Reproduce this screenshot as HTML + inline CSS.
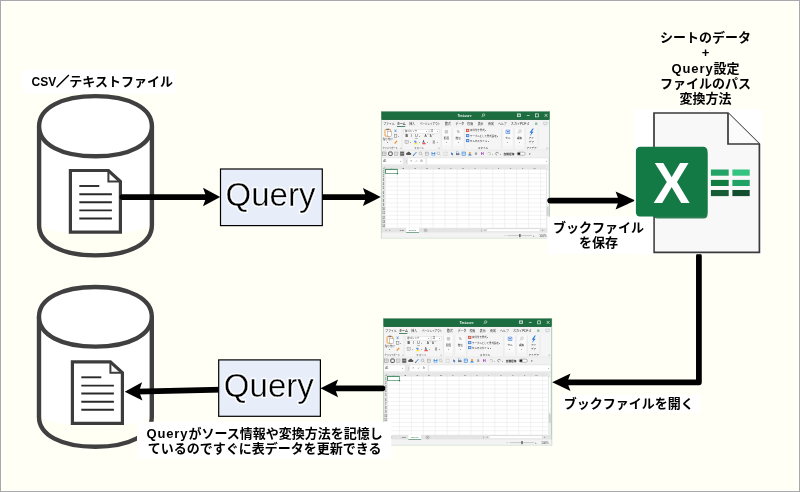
<!DOCTYPE html>
<html lang="ja">
<head>
<meta charset="utf-8">
<title>Query diagram</title>
<style>
html,body{margin:0;padding:0;background:#fff;}
body{width:800px;height:492px;overflow:hidden;}
svg{display:block;will-change:transform;}
text{white-space:pre;}
</style>
</head>
<body>
<svg width="800" height="492" viewBox="0 0 800 492">
<defs><filter id="soft" x="-2%" y="-2%" width="104%" height="104%"><feGaussianBlur stdDeviation="0.32"/></filter></defs>
<rect x="0" y="0" width="800" height="492" fill="#a9a9a9"/>
<rect x="1" y="1" width="798" height="490" fill="#ffffff"/>
<rect x="2.3" y="2.3" width="795.4" height="487.4" fill="#fffff6"/>
<rect x="22.5" y="70.5" width="152.50" height="23.00" fill="#ffffff"/>
<text x="31.60" y="85.80" font-family="'Liberation Sans','Noto Sans CJK JP',sans-serif" font-weight="bold" font-size="13" text-anchor="start" fill="#000"><tspan font-size="12">CSV</tspan><tspan stroke="#000" stroke-width="0.7">／</tspan>テキストファイル</text>
<path d="M39.10,126.20 L39.10,225.30 C39.10,243.51 61.38,255.40 95.50,255.40 C129.62,255.40 151.90,243.51 151.90,225.30 L151.90,126.20 Z" fill="#fffff4"/>
<path d="M39.10,126.20 L39.10,221.30 C39.10,229.17 61.38,234.30 95.50,234.30 C129.62,234.30 151.90,229.17 151.90,221.30 L151.90,126.20 Z" fill="#ffffff"/>
<path d="M39.10,126.20 L39.10,225.30 C39.10,243.51 61.38,255.40 95.50,255.40 C129.62,255.40 151.90,243.51 151.90,225.30 L151.90,126.20" fill="none" stroke="#404040" stroke-width="4.4" stroke-linejoin="round"/>
<path d="M39.10,126.20 C39.10,144.41 61.38,156.30 95.50,156.30 C129.62,156.30 151.90,144.41 151.90,126.20 C151.90,107.99 129.62,96.10 95.50,96.10 C61.38,96.10 39.10,107.99 39.10,126.20 Z" fill="#ffffff" stroke="#404040" stroke-width="4.4"/>
<path d="M70.40,170.50 L108.40,170.50 L120.40,181.50 L120.40,232.10 L70.40,232.10 Z" fill="#ffffff" stroke="#3c3c3c" stroke-width="3.2" stroke-linejoin="miter"/>
<path d="M108.40,170.50 L108.40,181.50 L120.40,181.50" fill="none" stroke="#3c3c3c" stroke-width="2"/>
<line x1="79.30" y1="186.00" x2="99.30" y2="186.00" stroke="#2a2a2a" stroke-width="1.9"/>
<line x1="79.30" y1="194.30" x2="111.90" y2="194.30" stroke="#2a2a2a" stroke-width="1.9"/>
<line x1="79.30" y1="202.20" x2="111.90" y2="202.20" stroke="#2a2a2a" stroke-width="1.9"/>
<line x1="79.30" y1="210.40" x2="111.90" y2="210.40" stroke="#2a2a2a" stroke-width="1.9"/>
<line x1="79.30" y1="218.50" x2="111.90" y2="218.50" stroke="#2a2a2a" stroke-width="1.9"/>
<path d="M39.00,316.80 L39.00,417.00 C39.00,435.03 61.28,446.80 95.40,446.80 C129.52,446.80 151.80,435.03 151.80,417.00 L151.80,316.80 Z" fill="#fffff4"/>
<path d="M39.00,316.80 L39.00,413.00 C39.00,420.87 61.28,426.00 95.40,426.00 C129.52,426.00 151.80,420.87 151.80,413.00 L151.80,316.80 Z" fill="#ffffff"/>
<path d="M39.00,316.80 L39.00,417.00 C39.00,435.03 61.28,446.80 95.40,446.80 C129.52,446.80 151.80,435.03 151.80,417.00 L151.80,316.80" fill="none" stroke="#404040" stroke-width="4.4" stroke-linejoin="round"/>
<path d="M39.00,316.80 C39.00,334.83 61.28,346.60 95.40,346.60 C129.52,346.60 151.80,334.83 151.80,316.80 C151.80,298.77 129.52,287.00 95.40,287.00 C61.28,287.00 39.00,298.77 39.00,316.80 Z" fill="#ffffff" stroke="#404040" stroke-width="4.4"/>
<path d="M72.40,361.80 L110.40,361.80 L122.40,372.80 L122.40,423.40 L72.40,423.40 Z" fill="#ffffff" stroke="#3c3c3c" stroke-width="3.2" stroke-linejoin="miter"/>
<path d="M110.40,361.80 L110.40,372.80 L122.40,372.80" fill="none" stroke="#3c3c3c" stroke-width="2"/>
<line x1="81.30" y1="377.30" x2="101.30" y2="377.30" stroke="#2a2a2a" stroke-width="1.9"/>
<line x1="81.30" y1="385.60" x2="113.90" y2="385.60" stroke="#2a2a2a" stroke-width="1.9"/>
<line x1="81.30" y1="393.50" x2="113.90" y2="393.50" stroke="#2a2a2a" stroke-width="1.9"/>
<line x1="81.30" y1="401.70" x2="113.90" y2="401.70" stroke="#2a2a2a" stroke-width="1.9"/>
<line x1="81.30" y1="409.80" x2="113.90" y2="409.80" stroke="#2a2a2a" stroke-width="1.9"/>
<g transform="translate(381 111.3)" filter="url(#soft)">
<rect x="0.00" y="0.00" width="169.00" height="127.00" fill="#f3f3f3" />
<rect x="0.00" y="0.00" width="169.00" height="8.50" fill="#1e6e41" />
<rect x="0.3" y="0.3" width="168.4" height="7.9" fill="none" stroke="#125a31" stroke-width="0.6"/>
<text x="84.00" y="5.40" font-family="'Liberation Sans','Noto Sans CJK JP',sans-serif" font-size="3.0" fill="#ffffff" text-anchor="middle" font-weight="bold" >Test.csv ▾</text>
<circle cx="102.6" cy="3.6" r="1.2" fill="none" stroke="#fff" stroke-width="0.5"/><line x1="101.7" y1="4.5" x2="100.6" y2="5.8" stroke="#fff" stroke-width="0.5"/>
<rect x="136.4" y="2.6" width="3.2" height="2.8" fill="none" stroke="#fff" stroke-width="0.6"/><line x1="136.4" y1="3.6" x2="139.6" y2="3.6" stroke="#fff" stroke-width="0.5"/>
<line x1="145.8" y1="4.2" x2="148.6" y2="4.2" stroke="#fff" stroke-width="0.6"/>
<rect x="154.6" y="2.6" width="2.8" height="3.0" fill="none" stroke="#fff" stroke-width="0.6"/>
<path d="M163.6,2.6 L166.4,5.6 M166.4,2.6 L163.6,5.6" stroke="#fff" stroke-width="0.6" fill="none"/>
<text x="2.20" y="13.40" font-family="'Liberation Sans','Noto Sans CJK JP',sans-serif" font-size="2.9" fill="#2a2a2a" text-anchor="start" font-weight="normal" >ファイル</text>
<text x="16.10" y="13.40" font-family="'Liberation Sans','Noto Sans CJK JP',sans-serif" font-size="2.9" fill="#222" text-anchor="start" font-weight="bold" >ホーム</text>
<text x="28.20" y="13.40" font-family="'Liberation Sans','Noto Sans CJK JP',sans-serif" font-size="2.9" fill="#2a2a2a" text-anchor="start" font-weight="normal" >挿入</text>
<text x="38.90" y="13.40" font-family="'Liberation Sans','Noto Sans CJK JP',sans-serif" font-size="3.0" fill="#2a2a2a" text-anchor="start" font-weight="normal" textLength="20.4" lengthAdjust="spacingAndGlyphs">ページレイアウト</text>
<text x="64.00" y="13.40" font-family="'Liberation Sans','Noto Sans CJK JP',sans-serif" font-size="2.9" fill="#2a2a2a" text-anchor="start" font-weight="normal" >数式</text>
<text x="74.60" y="13.40" font-family="'Liberation Sans','Noto Sans CJK JP',sans-serif" font-size="2.9" fill="#2a2a2a" text-anchor="start" font-weight="normal" >データ</text>
<text x="86.30" y="13.40" font-family="'Liberation Sans','Noto Sans CJK JP',sans-serif" font-size="2.9" fill="#2a2a2a" text-anchor="start" font-weight="normal" >校閲</text>
<text x="96.70" y="13.40" font-family="'Liberation Sans','Noto Sans CJK JP',sans-serif" font-size="2.9" fill="#2a2a2a" text-anchor="start" font-weight="normal" >表示</text>
<text x="107.00" y="13.40" font-family="'Liberation Sans','Noto Sans CJK JP',sans-serif" font-size="2.9" fill="#2a2a2a" text-anchor="start" font-weight="normal" >開発</text>
<text x="117.00" y="13.40" font-family="'Liberation Sans','Noto Sans CJK JP',sans-serif" font-size="2.9" fill="#2a2a2a" text-anchor="start" font-weight="normal" >ヘルプ</text>
<text x="129.80" y="13.40" font-family="'Liberation Sans','Noto Sans CJK JP',sans-serif" font-size="3.1" fill="#2a2a2a" text-anchor="start" font-weight="normal" >スカイPDF 4</text>
<rect x="15.90" y="14.70" width="8.30" height="0.80" fill="#1e6e41" />
<path d="M154,13.6 L154,11.2 L156.4,11.2 L156.4,13.6 Z" fill="#8fbf9f"/>
<path d="M162.6,10.8 L166.2,10.8 L166.2,13 L164.6,13 L163.8,14 L163.8,13 L162.6,13 Z" fill="none" stroke="#9ab" stroke-width="0.4"/>
<rect x="0.00" y="16.00" width="169.00" height="22.60" fill="#f5f5f5" />
<line x1="21.0" y1="17" x2="21.0" y2="37.6" stroke="#d9d9d9" stroke-width="0.4"/>
<line x1="60.3" y1="17" x2="60.3" y2="37.6" stroke="#d9d9d9" stroke-width="0.4"/>
<line x1="71.0" y1="17" x2="71.0" y2="37.6" stroke="#d9d9d9" stroke-width="0.4"/>
<line x1="83.6" y1="17" x2="83.6" y2="37.6" stroke="#d9d9d9" stroke-width="0.4"/>
<line x1="120.7" y1="17" x2="120.7" y2="37.6" stroke="#d9d9d9" stroke-width="0.4"/>
<line x1="133.0" y1="17" x2="133.0" y2="37.6" stroke="#d9d9d9" stroke-width="0.4"/>
<line x1="144.2" y1="17" x2="144.2" y2="37.6" stroke="#d9d9d9" stroke-width="0.4"/>
<line x1="157.0" y1="17" x2="157.0" y2="37.6" stroke="#d9d9d9" stroke-width="0.4"/>
<rect x="4.0" y="18.2" width="5.6" height="6.6" rx="0.6" fill="#fff" stroke="#e8912d" stroke-width="0.9"/>
<rect x="5.4" y="17.4" width="2.8" height="1.5" fill="#777"/>
<rect x="6.6" y="20.4" width="4.0" height="4.8" fill="#fff" stroke="#888" stroke-width="0.4"/>
<text x="6.70" y="28.40" font-family="'Liberation Sans','Noto Sans CJK JP',sans-serif" font-size="2.5" fill="#2c2c2c" text-anchor="middle" font-weight="normal" >貼り付け</text>
<text x="6.70" y="31.80" font-family="'Liberation Sans','Noto Sans CJK JP',sans-serif" font-size="2.4" fill="#2c2c2c" text-anchor="middle" font-weight="normal" >▾</text>
<path d="M13.6,18.2 L15.4,20.8 M15.4,18.2 L13.6,20.8" stroke="#2b7cd3" stroke-width="0.6" fill="none"/>
<rect x="13.4" y="23.4" width="2.4" height="2.8" fill="none" stroke="#777" stroke-width="0.5"/>
<text x="17.20" y="26.00" font-family="'Liberation Sans','Noto Sans CJK JP',sans-serif" font-size="2.2" fill="#666" text-anchor="start" font-weight="normal" >▾</text>
<path d="M13.2,31.8 L15.8,29.2 L16.6,30 L14,32.6 Z" fill="#e8912d"/>
<text x="1.40" y="37.40" font-family="'Liberation Sans','Noto Sans CJK JP',sans-serif" font-size="2.7" fill="#2c2c2c" text-anchor="start" font-weight="normal" textLength="15.4" lengthAdjust="spacingAndGlyphs">クリップボード</text>
<text x="18.80" y="37.40" font-family="'Liberation Sans','Noto Sans CJK JP',sans-serif" font-size="2.4" fill="#666" text-anchor="start" font-weight="normal" >⇲</text>
<rect x="22.80" y="18.20" width="24.80" height="3.60" fill="#ffffff" stroke="#c8c8c8" stroke-width="0.3"/>
<rect x="48.60" y="18.20" width="9.80" height="3.60" fill="#ffffff" stroke="#c8c8c8" stroke-width="0.3"/>
<text x="23.80" y="21.00" font-family="'Liberation Sans','Noto Sans CJK JP',sans-serif" font-size="2.5" fill="#333" text-anchor="start" font-weight="normal" >游ゴシック</text>
<text x="45.40" y="21.00" font-family="'Liberation Sans','Noto Sans CJK JP',sans-serif" font-size="2.2" fill="#666" text-anchor="start" font-weight="normal" >▾</text>
<text x="49.40" y="21.00" font-family="'Liberation Sans','Noto Sans CJK JP',sans-serif" font-size="2.6" fill="#333" text-anchor="start" font-weight="normal" >11</text>
<text x="55.60" y="21.00" font-family="'Liberation Sans','Noto Sans CJK JP',sans-serif" font-size="2.2" fill="#666" text-anchor="start" font-weight="normal" >▾</text>
<text x="24.40" y="26.20" font-family="'Liberation Sans','Noto Sans CJK JP',sans-serif" font-size="3.3" fill="#111" text-anchor="start" font-weight="bold" >B</text>
<text x="29.80" y="26.20" font-family="'Liberation Sans','Noto Sans CJK JP',sans-serif" font-size="3.3" fill="#222" text-anchor="start" font-weight="normal" font-style="italic">I</text>
<text x="34.20" y="26.20" font-family="'Liberation Sans','Noto Sans CJK JP',sans-serif" font-size="3.3" fill="#222" text-anchor="start" font-weight="normal" text-decoration="underline">U</text>
<text x="38.40" y="26.00" font-family="'Liberation Sans','Noto Sans CJK JP',sans-serif" font-size="2.2" fill="#666" text-anchor="start" font-weight="normal" >▾</text>
<text x="43.60" y="26.20" font-family="'Liberation Sans','Noto Sans CJK JP',sans-serif" font-size="3.3" fill="#333" text-anchor="start" font-weight="normal" >A</text>
<text x="48.80" y="26.20" font-family="'Liberation Sans','Noto Sans CJK JP',sans-serif" font-size="2.8" fill="#333" text-anchor="start" font-weight="normal" >A</text>
<path d="M46.6,23.4 l0.8,-0.9 l0.8,0.9" stroke="#2b7cd3" stroke-width="0.35" fill="none"/><path d="M51.4,23 l0.7,0.8 l0.7,-0.8" stroke="#2b7cd3" stroke-width="0.35" fill="none"/>
<rect x="24.0" y="29.2" width="3.2" height="3.0" fill="none" stroke="#888" stroke-width="0.4"/><line x1="25.6" y1="29.2" x2="25.6" y2="32.2" stroke="#aaa" stroke-width="0.3"/><line x1="24" y1="30.7" x2="27.2" y2="30.7" stroke="#aaa" stroke-width="0.3"/>
<text x="28.60" y="31.80" font-family="'Liberation Sans','Noto Sans CJK JP',sans-serif" font-size="2.2" fill="#666" text-anchor="start" font-weight="normal" >▾</text>
<path d="M33.8,29 L36,30.6 L34.6,31.6 L33,30.4 Z" fill="#5b8fd6"/>
<rect x="32.90" y="32.00" width="3.60" height="0.90" fill="#ffe500" />
<text x="37.60" y="31.80" font-family="'Liberation Sans','Noto Sans CJK JP',sans-serif" font-size="2.2" fill="#666" text-anchor="start" font-weight="normal" >▾</text>
<text x="41.60" y="31.60" font-family="'Liberation Sans','Noto Sans CJK JP',sans-serif" font-size="3.1" fill="#333" text-anchor="start" font-weight="normal" >A</text>
<rect x="41.30" y="32.00" width="3.40" height="0.90" fill="#e81123" />
<text x="45.80" y="31.80" font-family="'Liberation Sans','Noto Sans CJK JP',sans-serif" font-size="2.2" fill="#666" text-anchor="start" font-weight="normal" >▾</text>
<text x="51.60" y="31.60" font-family="'Liberation Sans','Noto Sans CJK JP',sans-serif" font-size="2.6" fill="#444" text-anchor="start" font-weight="normal" >亜</text>
<text x="55.80" y="31.80" font-family="'Liberation Sans','Noto Sans CJK JP',sans-serif" font-size="2.2" fill="#666" text-anchor="start" font-weight="normal" >▾</text>
<text x="38.20" y="37.40" font-family="'Liberation Sans','Noto Sans CJK JP',sans-serif" font-size="2.6" fill="#2c2c2c" text-anchor="middle" font-weight="normal" >フォント</text>
<text x="56.60" y="37.40" font-family="'Liberation Sans','Noto Sans CJK JP',sans-serif" font-size="2.4" fill="#666" text-anchor="start" font-weight="normal" >⇲</text>
<rect x="61.20" y="17.20" width="8.40" height="17.00" fill="#fafafa" />
<text x="65.40" y="27.80" font-family="'Liberation Sans','Noto Sans CJK JP',sans-serif" font-size="2.6" fill="#333" text-anchor="middle" font-weight="normal" >配置</text>
<text x="65.40" y="31.60" font-family="'Liberation Sans','Noto Sans CJK JP',sans-serif" font-size="2.2" fill="#666" text-anchor="middle" font-weight="normal" >▾</text>
<rect x="73.00" y="17.20" width="8.40" height="17.00" fill="#fafafa" />
<text x="77.20" y="27.80" font-family="'Liberation Sans','Noto Sans CJK JP',sans-serif" font-size="2.6" fill="#333" text-anchor="middle" font-weight="normal" >数値</text>
<text x="77.20" y="31.60" font-family="'Liberation Sans','Noto Sans CJK JP',sans-serif" font-size="2.2" fill="#666" text-anchor="middle" font-weight="normal" >▾</text>
<line x1="63.8" y1="19.40" x2="67.0" y2="19.40" stroke="#777" stroke-width="0.45"/>
<line x1="63.8" y1="20.50" x2="67.0" y2="20.50" stroke="#777" stroke-width="0.45"/>
<line x1="63.8" y1="21.60" x2="67.0" y2="21.60" stroke="#777" stroke-width="0.45"/>
<text x="77.20" y="22.00" font-family="'Liberation Sans','Noto Sans CJK JP',sans-serif" font-size="3.4" fill="#666" text-anchor="middle" font-weight="normal" >%</text>
<rect x="85.00" y="17.60" width="3.20" height="3.00" fill="#d0453a" />
<rect x="85.80" y="18.40" width="1.60" height="1.40" fill="#ffffff" opacity="0.7"/>
<text x="89.00" y="20.05" font-family="'Liberation Sans','Noto Sans CJK JP',sans-serif" font-size="2.45" fill="#333" text-anchor="start" font-weight="normal" >条件付き書式 ▾</text>
<rect x="85.00" y="22.80" width="3.20" height="3.00" fill="#3a7bd5" />
<rect x="85.80" y="23.60" width="1.60" height="1.40" fill="#ffffff" opacity="0.7"/>
<text x="89.00" y="25.25" font-family="'Liberation Sans','Noto Sans CJK JP',sans-serif" font-size="2.45" fill="#333" text-anchor="start" font-weight="normal" >テーブルとして書式設定 ▾</text>
<rect x="85.00" y="27.80" width="3.20" height="3.00" fill="#3a7bd5" />
<rect x="85.80" y="28.60" width="1.60" height="1.40" fill="#ffffff" opacity="0.7"/>
<text x="89.00" y="30.25" font-family="'Liberation Sans','Noto Sans CJK JP',sans-serif" font-size="2.45" fill="#333" text-anchor="start" font-weight="normal" >セルのスタイル ▾</text>
<text x="101.90" y="37.40" font-family="'Liberation Sans','Noto Sans CJK JP',sans-serif" font-size="2.6" fill="#2c2c2c" text-anchor="middle" font-weight="normal" >スタイル</text>
<rect x="122.60" y="17.20" width="8.60" height="17.00" fill="#fafafa" />
<rect x="125.0" y="18.8" width="3.8" height="3.2" fill="#fff" stroke="#3a7bd5" stroke-width="0.6"/><rect x="126.1" y="19.7" width="1.6" height="1.4" fill="#3a7bd5"/>
<text x="126.90" y="27.80" font-family="'Liberation Sans','Noto Sans CJK JP',sans-serif" font-size="2.6" fill="#333" text-anchor="middle" font-weight="normal" >セル</text>
<text x="126.90" y="31.60" font-family="'Liberation Sans','Noto Sans CJK JP',sans-serif" font-size="2.2" fill="#666" text-anchor="middle" font-weight="normal" >▾</text>
<rect x="134.20" y="17.20" width="8.60" height="17.00" fill="#fafafa" />
<circle cx="139.0" cy="19.8" r="1.3" fill="none" stroke="#999" stroke-width="0.45"/><line x1="138.1" y1="20.8" x2="136.8" y2="22.4" stroke="#999" stroke-width="0.5"/>
<text x="138.50" y="27.80" font-family="'Liberation Sans','Noto Sans CJK JP',sans-serif" font-size="2.6" fill="#333" text-anchor="middle" font-weight="normal" >編集</text>
<text x="138.50" y="31.60" font-family="'Liberation Sans','Noto Sans CJK JP',sans-serif" font-size="2.2" fill="#666" text-anchor="middle" font-weight="normal" >▾</text>
<path d="M151.6,17.3 L148.6,21.4 L150.4,21.4 L148.8,25.0 L152.6,20.4 L150.8,20.4 L152.8,17.3 Z" fill="#2b7cd3"/>
<text x="150.40" y="28.20" font-family="'Liberation Sans','Noto Sans CJK JP',sans-serif" font-size="2.6" fill="#333" text-anchor="middle" font-weight="normal" >アイ</text>
<text x="150.40" y="31.70" font-family="'Liberation Sans','Noto Sans CJK JP',sans-serif" font-size="2.6" fill="#333" text-anchor="middle" font-weight="normal" >デア</text>
<text x="150.60" y="37.40" font-family="'Liberation Sans','Noto Sans CJK JP',sans-serif" font-size="2.6" fill="#2c2c2c" text-anchor="middle" font-weight="normal" >アイデア</text>
<path d="M165.4,37.4 l0.9,-0.9 l0.9,0.9" stroke="#666" stroke-width="0.4" fill="none"/>
<rect x="0.00" y="38.60" width="169.00" height="7.30" fill="#f1f1f1" />
<line x1="0" y1="38.6" x2="169.0" y2="38.6" stroke="#dcdcdc" stroke-width="0.4"/>
<rect x="1.6" y="40.699999999999996" width="3.4" height="3.4" fill="none" stroke="#777" stroke-width="0.45"/><line x1="3.3" y1="40.699999999999996" x2="3.3" y2="44.1" stroke="#999" stroke-width="0.3"/><line x1="1.6" y1="42.4" x2="5" y2="42.4" stroke="#999" stroke-width="0.3"/>
<rect x="7.7" y="40.699999999999996" width="3.5" height="3.4" rx="0.7" fill="#fff" stroke="#222" stroke-width="0.8"/>
<rect x="13.6" y="40.699999999999996" width="3.3" height="3.4" fill="#ddd" stroke="#999" stroke-width="0.4"/>
<rect x="18.80" y="39.80" width="4.80" height="5.20" fill="#cfcfcf" />
<rect x="19.6" y="40.699999999999996" width="3.2" height="3.4" fill="#666" stroke="#444" stroke-width="0.4"/><line x1="19.6" y1="42.1" x2="22.8" y2="42.1" stroke="#ddd" stroke-width="0.4"/>
<path d="M25.6,43.6 a1.2,1.2 0 0 1 0.6,-2.2 a1.6,1.6 0 0 1 3,0.2 a1,1 0 0 1 0.2,2 Z" fill="#555"/>
<path d="M32.6,44.0 L35.4,40.8" stroke="#2b7cd3" stroke-width="0.9"/><circle cx="32.6" cy="43.9" r="0.5" fill="#333"/>
<circle cx="39.4" cy="42.0" r="1.3" fill="none" stroke="#888" stroke-width="0.45"/><line x1="40.3" y1="43.0" x2="41.4" y2="44.199999999999996" stroke="#888" stroke-width="0.5"/>
<rect x="44.2" y="40.8" width="3.2" height="3.2" fill="#eee" stroke="#888" stroke-width="0.4"/><line x1="44.2" y1="42.0" x2="47.4" y2="42.0" stroke="#888" stroke-width="0.3"/>
<rect x="50.6" y="40.699999999999996" width="3.6" height="3.5" rx="0.4" fill="#2b7cd3"/><rect x="51.4" y="40.699999999999996" width="2.0" height="1.3" fill="#fff"/><rect x="51.2" y="42.699999999999996" width="2.4" height="1.5" fill="#dbe9fa"/>
<circle cx="57.4" cy="42.0" r="1.3" fill="none" stroke="#999" stroke-width="0.45"/><line x1="58.3" y1="43.0" x2="59.4" y2="44.199999999999996" stroke="#999" stroke-width="0.5"/>
<rect x="62.8" y="40.8" width="3.4" height="3.2" fill="none" stroke="#999" stroke-width="0.4" stroke-dasharray="0.7 0.5"/>
<path d="M70.2,41.0 L72.6,43.0 L71.4,43.0 L72,44.199999999999996 L71.4,44.3 L70.9,43.199999999999996 L70.2,43.8 Z" fill="#2b5fa8"/>
<rect x="75" y="41.8" width="3.4" height="2.0" fill="#777"/><rect x="75.7" y="40.6" width="2.0" height="1.4" fill="#fff" stroke="#2b7cd3" stroke-width="0.35"/>
<rect x="81.0" y="40.699999999999996" width="3.6" height="3.4" fill="#cfe2f8" stroke="#2b7cd3" stroke-width="0.5"/><line x1="81" y1="41.9" x2="84.6" y2="41.9" stroke="#2b7cd3" stroke-width="0.35"/>
<circle cx="88.9" cy="41.6" r="1.0" fill="#e8912d"/><path d="M87.2,44.199999999999996 a1.7,1.6 0 0 1 3.4,0 Z" fill="#2b7cd3"/>
<text x="95.00" y="43.70" font-family="'Liberation Sans','Noto Sans CJK JP',sans-serif" font-size="3.6" fill="#666" text-anchor="middle" font-weight="normal" text-decoration="line-through">S</text>
<text x="101.20" y="43.90" font-family="'Liberation Sans','Noto Sans CJK JP',sans-serif" font-size="4.2" fill="#9b2fae" text-anchor="middle" font-weight="bold" >H</text>
<path d="M106.6,42.199999999999996 a1.5,1.4 0 1 1 1.6,1.6" fill="none" stroke="#999" stroke-width="0.45"/>
<text x="110.60" y="43.40" font-family="'Liberation Sans','Noto Sans CJK JP',sans-serif" font-size="2.2" fill="#888" text-anchor="start" font-weight="normal" >▾</text>
<path d="M117.6,42.199999999999996 a1.5,1.4 0 1 0 -1.6,1.6" fill="none" stroke="#555" stroke-width="0.5"/>
<text x="119.00" y="43.40" font-family="'Liberation Sans','Noto Sans CJK JP',sans-serif" font-size="2.2" fill="#666" text-anchor="start" font-weight="normal" >▾</text>
<text x="122.60" y="43.40" font-family="'Liberation Sans','Noto Sans CJK JP',sans-serif" font-size="2.7" fill="#222" text-anchor="start" font-weight="bold" >自動保存</text>
<rect x="136.2" y="40.9" width="8.0" height="3.0" rx="1.5" fill="#fff" stroke="#555" stroke-width="0.4"/><rect x="136.6" y="41.3" width="2.6" height="2.2" fill="#222"/>
<text x="148.90" y="43.40" font-family="'Liberation Sans','Noto Sans CJK JP',sans-serif" font-size="2.6" fill="#444" text-anchor="middle" font-weight="normal" >▾</text>
<rect x="0.00" y="45.90" width="169.00" height="8.90" fill="#e9e9e9" />
<rect x="1.00" y="47.00" width="20.60" height="6.00" fill="#ffffff" />
<text x="2.20" y="51.00" font-family="'Liberation Sans','Noto Sans CJK JP',sans-serif" font-size="2.7" fill="#444" text-anchor="start" font-weight="normal" >A1</text>
<text x="18.80" y="51.00" font-family="'Liberation Sans','Noto Sans CJK JP',sans-serif" font-size="2.2" fill="#777" text-anchor="start" font-weight="normal" >▾</text>
<text x="23.60" y="51.20" font-family="'Liberation Sans','Noto Sans CJK JP',sans-serif" font-size="3" fill="#999" text-anchor="start" font-weight="normal" >⋮</text>
<rect x="26.90" y="47.00" width="17.60" height="6.00" fill="#ffffff" />
<text x="30.40" y="51.10" font-family="'Liberation Sans','Noto Sans CJK JP',sans-serif" font-size="2.5" fill="#888" text-anchor="middle" font-weight="normal" >✕</text>
<text x="35.40" y="51.10" font-family="'Liberation Sans','Noto Sans CJK JP',sans-serif" font-size="2.5" fill="#888" text-anchor="middle" font-weight="normal" >✓</text>
<text x="40.60" y="51.10" font-family="'Liberation Sans','Noto Sans CJK JP',sans-serif" font-size="2.7" fill="#555" text-anchor="middle" font-weight="normal" font-style="italic">fx</text>
<rect x="46.00" y="47.00" width="121.20" height="6.00" fill="#ffffff" />
<text x="165.20" y="51.00" font-family="'Liberation Sans','Noto Sans CJK JP',sans-serif" font-size="2.2" fill="#777" text-anchor="start" font-weight="normal" >▾</text>
<rect x="0.80" y="54.80" width="164.20" height="3.30" fill="#e6e6e6" />
<rect x="0.80" y="58.10" width="3.60" height="58.60" fill="#e6e6e6" />
<rect x="4.40" y="58.10" width="160.60" height="58.60" fill="#ffffff" />
<path d="M1.4,57.6 L3.8,57.6 L3.8,55.4 Z" fill="#b5b5b5"/>
<line x1="4.40" y1="54.8" x2="4.40" y2="116.70" stroke="#dcdcdc" stroke-width="0.35"/>
<text x="10.37" y="57.50" font-family="'Liberation Sans','Noto Sans CJK JP',sans-serif" font-size="2.5" fill="#1e6e41" text-anchor="middle" font-weight="normal" >A</text>
<line x1="16.33" y1="54.8" x2="16.33" y2="116.70" stroke="#dcdcdc" stroke-width="0.35"/>
<text x="22.29" y="57.50" font-family="'Liberation Sans','Noto Sans CJK JP',sans-serif" font-size="2.5" fill="#3a3a3a" text-anchor="middle" font-weight="normal" >B</text>
<line x1="28.26" y1="54.8" x2="28.26" y2="116.70" stroke="#dcdcdc" stroke-width="0.35"/>
<text x="34.22" y="57.50" font-family="'Liberation Sans','Noto Sans CJK JP',sans-serif" font-size="2.5" fill="#3a3a3a" text-anchor="middle" font-weight="normal" >C</text>
<line x1="40.19" y1="54.8" x2="40.19" y2="116.70" stroke="#dcdcdc" stroke-width="0.35"/>
<text x="46.16" y="57.50" font-family="'Liberation Sans','Noto Sans CJK JP',sans-serif" font-size="2.5" fill="#3a3a3a" text-anchor="middle" font-weight="normal" >D</text>
<line x1="52.12" y1="54.8" x2="52.12" y2="116.70" stroke="#dcdcdc" stroke-width="0.35"/>
<text x="58.08" y="57.50" font-family="'Liberation Sans','Noto Sans CJK JP',sans-serif" font-size="2.5" fill="#3a3a3a" text-anchor="middle" font-weight="normal" >E</text>
<line x1="64.05" y1="54.8" x2="64.05" y2="116.70" stroke="#dcdcdc" stroke-width="0.35"/>
<text x="70.02" y="57.50" font-family="'Liberation Sans','Noto Sans CJK JP',sans-serif" font-size="2.5" fill="#3a3a3a" text-anchor="middle" font-weight="normal" >F</text>
<line x1="75.98" y1="54.8" x2="75.98" y2="116.70" stroke="#dcdcdc" stroke-width="0.35"/>
<text x="81.94" y="57.50" font-family="'Liberation Sans','Noto Sans CJK JP',sans-serif" font-size="2.5" fill="#3a3a3a" text-anchor="middle" font-weight="normal" >G</text>
<line x1="87.91" y1="54.8" x2="87.91" y2="116.70" stroke="#dcdcdc" stroke-width="0.35"/>
<text x="93.88" y="57.50" font-family="'Liberation Sans','Noto Sans CJK JP',sans-serif" font-size="2.5" fill="#3a3a3a" text-anchor="middle" font-weight="normal" >H</text>
<line x1="99.84" y1="54.8" x2="99.84" y2="116.70" stroke="#dcdcdc" stroke-width="0.35"/>
<text x="105.81" y="57.50" font-family="'Liberation Sans','Noto Sans CJK JP',sans-serif" font-size="2.5" fill="#3a3a3a" text-anchor="middle" font-weight="normal" >I</text>
<line x1="111.77" y1="54.8" x2="111.77" y2="116.70" stroke="#dcdcdc" stroke-width="0.35"/>
<text x="117.74" y="57.50" font-family="'Liberation Sans','Noto Sans CJK JP',sans-serif" font-size="2.5" fill="#3a3a3a" text-anchor="middle" font-weight="normal" >J</text>
<line x1="123.70" y1="54.8" x2="123.70" y2="116.70" stroke="#dcdcdc" stroke-width="0.35"/>
<text x="129.67" y="57.50" font-family="'Liberation Sans','Noto Sans CJK JP',sans-serif" font-size="2.5" fill="#3a3a3a" text-anchor="middle" font-weight="normal" >K</text>
<line x1="135.63" y1="54.8" x2="135.63" y2="116.70" stroke="#dcdcdc" stroke-width="0.35"/>
<text x="141.60" y="57.50" font-family="'Liberation Sans','Noto Sans CJK JP',sans-serif" font-size="2.5" fill="#3a3a3a" text-anchor="middle" font-weight="normal" >L</text>
<line x1="147.56" y1="54.8" x2="147.56" y2="116.70" stroke="#dcdcdc" stroke-width="0.35"/>
<text x="153.53" y="57.50" font-family="'Liberation Sans','Noto Sans CJK JP',sans-serif" font-size="2.5" fill="#3a3a3a" text-anchor="middle" font-weight="normal" >M</text>
<line x1="159.49" y1="54.8" x2="159.49" y2="116.70" stroke="#dcdcdc" stroke-width="0.35"/>
<line x1="0.8" y1="58.10" x2="165.00" y2="58.10" stroke="#dcdcdc" stroke-width="0.35"/>
<text x="2.60" y="61.30" font-family="'Liberation Sans','Noto Sans CJK JP',sans-serif" font-size="2.6" fill="#1e6e41" text-anchor="middle" font-weight="normal" >1</text>
<line x1="0.8" y1="62.29" x2="165.00" y2="62.29" stroke="#dcdcdc" stroke-width="0.35"/>
<text x="2.60" y="65.49" font-family="'Liberation Sans','Noto Sans CJK JP',sans-serif" font-size="2.6" fill="#444" text-anchor="middle" font-weight="normal" >2</text>
<line x1="0.8" y1="66.47" x2="165.00" y2="66.47" stroke="#dcdcdc" stroke-width="0.35"/>
<text x="2.60" y="69.67" font-family="'Liberation Sans','Noto Sans CJK JP',sans-serif" font-size="2.6" fill="#444" text-anchor="middle" font-weight="normal" >3</text>
<line x1="0.8" y1="70.66" x2="165.00" y2="70.66" stroke="#dcdcdc" stroke-width="0.35"/>
<text x="2.60" y="73.86" font-family="'Liberation Sans','Noto Sans CJK JP',sans-serif" font-size="2.6" fill="#444" text-anchor="middle" font-weight="normal" >4</text>
<line x1="0.8" y1="74.84" x2="165.00" y2="74.84" stroke="#dcdcdc" stroke-width="0.35"/>
<text x="2.60" y="78.04" font-family="'Liberation Sans','Noto Sans CJK JP',sans-serif" font-size="2.6" fill="#444" text-anchor="middle" font-weight="normal" >5</text>
<line x1="0.8" y1="79.03" x2="165.00" y2="79.03" stroke="#dcdcdc" stroke-width="0.35"/>
<text x="2.60" y="82.23" font-family="'Liberation Sans','Noto Sans CJK JP',sans-serif" font-size="2.6" fill="#444" text-anchor="middle" font-weight="normal" >6</text>
<line x1="0.8" y1="83.22" x2="165.00" y2="83.22" stroke="#dcdcdc" stroke-width="0.35"/>
<text x="2.60" y="86.42" font-family="'Liberation Sans','Noto Sans CJK JP',sans-serif" font-size="2.6" fill="#444" text-anchor="middle" font-weight="normal" >7</text>
<line x1="0.8" y1="87.40" x2="165.00" y2="87.40" stroke="#dcdcdc" stroke-width="0.35"/>
<text x="2.60" y="90.60" font-family="'Liberation Sans','Noto Sans CJK JP',sans-serif" font-size="2.6" fill="#444" text-anchor="middle" font-weight="normal" >8</text>
<line x1="0.8" y1="91.59" x2="165.00" y2="91.59" stroke="#dcdcdc" stroke-width="0.35"/>
<text x="2.60" y="94.79" font-family="'Liberation Sans','Noto Sans CJK JP',sans-serif" font-size="2.6" fill="#444" text-anchor="middle" font-weight="normal" >9</text>
<line x1="0.8" y1="95.77" x2="165.00" y2="95.77" stroke="#dcdcdc" stroke-width="0.35"/>
<text x="2.60" y="98.97" font-family="'Liberation Sans','Noto Sans CJK JP',sans-serif" font-size="2.6" fill="#444" text-anchor="middle" font-weight="normal" >10</text>
<line x1="0.8" y1="99.96" x2="165.00" y2="99.96" stroke="#dcdcdc" stroke-width="0.35"/>
<text x="2.60" y="103.16" font-family="'Liberation Sans','Noto Sans CJK JP',sans-serif" font-size="2.6" fill="#444" text-anchor="middle" font-weight="normal" >11</text>
<line x1="0.8" y1="104.15" x2="165.00" y2="104.15" stroke="#dcdcdc" stroke-width="0.35"/>
<text x="2.60" y="107.35" font-family="'Liberation Sans','Noto Sans CJK JP',sans-serif" font-size="2.6" fill="#444" text-anchor="middle" font-weight="normal" >12</text>
<line x1="0.8" y1="108.33" x2="165.00" y2="108.33" stroke="#dcdcdc" stroke-width="0.35"/>
<text x="2.60" y="111.53" font-family="'Liberation Sans','Noto Sans CJK JP',sans-serif" font-size="2.6" fill="#444" text-anchor="middle" font-weight="normal" >13</text>
<line x1="0.8" y1="112.52" x2="165.00" y2="112.52" stroke="#dcdcdc" stroke-width="0.35"/>
<text x="2.60" y="115.72" font-family="'Liberation Sans','Noto Sans CJK JP',sans-serif" font-size="2.6" fill="#444" text-anchor="middle" font-weight="normal" >14</text>
<line x1="0.8" y1="116.70" x2="165.00" y2="116.70" stroke="#dcdcdc" stroke-width="0.35"/>
<rect x="4.40" y="57.60" width="11.93" height="0.60" fill="#1e6e41" />
<rect x="3.90" y="58.10" width="0.50" height="4.19" fill="#1e6e41" />
<rect x="4.50" y="58.20" width="11.93" height="4.19" fill="none" stroke="#2f8052" stroke-width="0.6"/>
<rect x="15.83" y="61.79" width="1.20" height="1.20" fill="#1e6e41" />
<rect x="165.00" y="54.80" width="3.30" height="61.90" fill="#ececec" />
<rect x="165.60" y="58.40" width="2.10" height="36.00" fill="#ffffff" stroke="#cfcfcf" stroke-width="0.3"/>
<rect x="165.60" y="95.50" width="2.10" height="9.00" fill="#d2d2d2" />
<line x1="168.5" y1="8" x2="168.5" y2="127.0" stroke="#9fc7ae" stroke-width="0.7"/>
<line x1="0.35" y1="8" x2="0.35" y2="127.0" stroke="#b9d3c2" stroke-width="0.6"/>
<rect x="0.00" y="116.70" width="168.30" height="4.70" fill="#e4e4e4" />
<text x="5.00" y="120.20" font-family="'Liberation Sans','Noto Sans CJK JP',sans-serif" font-size="2.8" fill="#aaa" text-anchor="middle" font-weight="normal" >◂</text>
<text x="9.40" y="120.20" font-family="'Liberation Sans','Noto Sans CJK JP',sans-serif" font-size="2.8" fill="#aaa" text-anchor="middle" font-weight="normal" >▸</text>
<text x="20.60" y="120.00" font-family="'Liberation Sans','Noto Sans CJK JP',sans-serif" font-size="2.4" fill="#444" text-anchor="middle" font-weight="normal" >Test</text>
<rect x="25.20" y="116.70" width="12.80" height="4.70" fill="#ffffff" />
<text x="31.60" y="119.90" font-family="'Liberation Sans','Noto Sans CJK JP',sans-serif" font-size="2.4" fill="#2f8052" text-anchor="middle" font-weight="normal" >Sheet1</text>
<rect x="25.20" y="120.70" width="12.80" height="0.80" fill="#1e6e41" />
<circle cx="44.6" cy="119.10" r="1.5" fill="none" stroke="#777" stroke-width="0.4"/>
<text x="44.60" y="120.00" font-family="'Liberation Sans','Noto Sans CJK JP',sans-serif" font-size="2.8" fill="#666" text-anchor="middle" font-weight="normal" >+</text>
<text x="100.20" y="120.10" font-family="'Liberation Sans','Noto Sans CJK JP',sans-serif" font-size="2.8" fill="#888" text-anchor="middle" font-weight="normal" >⋮</text>
<text x="103.60" y="120.20" font-family="'Liberation Sans','Noto Sans CJK JP',sans-serif" font-size="2.6" fill="#999" text-anchor="middle" font-weight="normal" >◂</text>
<rect x="106.00" y="117.60" width="53.00" height="2.90" fill="#ffffff" stroke="#c6c6c6" stroke-width="0.3"/>
<text x="162.40" y="120.20" font-family="'Liberation Sans','Noto Sans CJK JP',sans-serif" font-size="2.6" fill="#999" text-anchor="middle" font-weight="normal" >▸</text>
<rect x="0.00" y="121.40" width="169.00" height="5.60" fill="#f3f3f3" />
<line x1="126.5" y1="124.30" x2="151" y2="124.30" stroke="#8a8a8a" stroke-width="0.4"/>
<text x="124.30" y="125.30" font-family="'Liberation Sans','Noto Sans CJK JP',sans-serif" font-size="3" fill="#555" text-anchor="middle" font-weight="normal" >−</text>
<text x="152.90" y="125.30" font-family="'Liberation Sans','Noto Sans CJK JP',sans-serif" font-size="3" fill="#555" text-anchor="middle" font-weight="normal" >+</text>
<rect x="138.30" y="122.70" width="1.20" height="3.20" fill="#444" />
<text x="165.60" y="125.30" font-family="'Liberation Sans','Noto Sans CJK JP',sans-serif" font-size="2.9" fill="#444" text-anchor="end" font-weight="normal" >100%</text>
<rect x="0.2" y="0.2" width="168.6" height="126.6" fill="none" stroke="#a9c9b6" stroke-width="0.4"/>
</g>
<g transform="translate(383.1 318.3)" filter="url(#soft)">
<rect x="0.00" y="0.00" width="169.00" height="127.00" fill="#f3f3f3" />
<rect x="0.00" y="0.00" width="169.00" height="8.50" fill="#1e6e41" />
<rect x="0.3" y="0.3" width="168.4" height="7.9" fill="none" stroke="#125a31" stroke-width="0.6"/>
<text x="84.00" y="5.40" font-family="'Liberation Sans','Noto Sans CJK JP',sans-serif" font-size="3.0" fill="#ffffff" text-anchor="middle" font-weight="bold" >Test.csv ▾</text>
<circle cx="102.6" cy="3.6" r="1.2" fill="none" stroke="#fff" stroke-width="0.5"/><line x1="101.7" y1="4.5" x2="100.6" y2="5.8" stroke="#fff" stroke-width="0.5"/>
<rect x="136.4" y="2.6" width="3.2" height="2.8" fill="none" stroke="#fff" stroke-width="0.6"/><line x1="136.4" y1="3.6" x2="139.6" y2="3.6" stroke="#fff" stroke-width="0.5"/>
<line x1="145.8" y1="4.2" x2="148.6" y2="4.2" stroke="#fff" stroke-width="0.6"/>
<rect x="154.6" y="2.6" width="2.8" height="3.0" fill="none" stroke="#fff" stroke-width="0.6"/>
<path d="M163.6,2.6 L166.4,5.6 M166.4,2.6 L163.6,5.6" stroke="#fff" stroke-width="0.6" fill="none"/>
<text x="2.20" y="13.40" font-family="'Liberation Sans','Noto Sans CJK JP',sans-serif" font-size="2.9" fill="#2a2a2a" text-anchor="start" font-weight="normal" >ファイル</text>
<text x="16.10" y="13.40" font-family="'Liberation Sans','Noto Sans CJK JP',sans-serif" font-size="2.9" fill="#222" text-anchor="start" font-weight="bold" >ホーム</text>
<text x="28.20" y="13.40" font-family="'Liberation Sans','Noto Sans CJK JP',sans-serif" font-size="2.9" fill="#2a2a2a" text-anchor="start" font-weight="normal" >挿入</text>
<text x="38.90" y="13.40" font-family="'Liberation Sans','Noto Sans CJK JP',sans-serif" font-size="3.0" fill="#2a2a2a" text-anchor="start" font-weight="normal" textLength="20.4" lengthAdjust="spacingAndGlyphs">ページレイアウト</text>
<text x="64.00" y="13.40" font-family="'Liberation Sans','Noto Sans CJK JP',sans-serif" font-size="2.9" fill="#2a2a2a" text-anchor="start" font-weight="normal" >数式</text>
<text x="74.60" y="13.40" font-family="'Liberation Sans','Noto Sans CJK JP',sans-serif" font-size="2.9" fill="#2a2a2a" text-anchor="start" font-weight="normal" >データ</text>
<text x="86.30" y="13.40" font-family="'Liberation Sans','Noto Sans CJK JP',sans-serif" font-size="2.9" fill="#2a2a2a" text-anchor="start" font-weight="normal" >校閲</text>
<text x="96.70" y="13.40" font-family="'Liberation Sans','Noto Sans CJK JP',sans-serif" font-size="2.9" fill="#2a2a2a" text-anchor="start" font-weight="normal" >表示</text>
<text x="107.00" y="13.40" font-family="'Liberation Sans','Noto Sans CJK JP',sans-serif" font-size="2.9" fill="#2a2a2a" text-anchor="start" font-weight="normal" >開発</text>
<text x="117.00" y="13.40" font-family="'Liberation Sans','Noto Sans CJK JP',sans-serif" font-size="2.9" fill="#2a2a2a" text-anchor="start" font-weight="normal" >ヘルプ</text>
<text x="129.80" y="13.40" font-family="'Liberation Sans','Noto Sans CJK JP',sans-serif" font-size="3.1" fill="#2a2a2a" text-anchor="start" font-weight="normal" >スカイPDF 4</text>
<rect x="15.90" y="14.70" width="8.30" height="0.80" fill="#1e6e41" />
<path d="M154,13.6 L154,11.2 L156.4,11.2 L156.4,13.6 Z" fill="#8fbf9f"/>
<path d="M162.6,10.8 L166.2,10.8 L166.2,13 L164.6,13 L163.8,14 L163.8,13 L162.6,13 Z" fill="none" stroke="#9ab" stroke-width="0.4"/>
<rect x="0.00" y="16.00" width="169.00" height="22.60" fill="#f5f5f5" />
<line x1="21.0" y1="17" x2="21.0" y2="37.6" stroke="#d9d9d9" stroke-width="0.4"/>
<line x1="60.3" y1="17" x2="60.3" y2="37.6" stroke="#d9d9d9" stroke-width="0.4"/>
<line x1="71.0" y1="17" x2="71.0" y2="37.6" stroke="#d9d9d9" stroke-width="0.4"/>
<line x1="83.6" y1="17" x2="83.6" y2="37.6" stroke="#d9d9d9" stroke-width="0.4"/>
<line x1="120.7" y1="17" x2="120.7" y2="37.6" stroke="#d9d9d9" stroke-width="0.4"/>
<line x1="133.0" y1="17" x2="133.0" y2="37.6" stroke="#d9d9d9" stroke-width="0.4"/>
<line x1="144.2" y1="17" x2="144.2" y2="37.6" stroke="#d9d9d9" stroke-width="0.4"/>
<line x1="157.0" y1="17" x2="157.0" y2="37.6" stroke="#d9d9d9" stroke-width="0.4"/>
<rect x="4.0" y="18.2" width="5.6" height="6.6" rx="0.6" fill="#fff" stroke="#e8912d" stroke-width="0.9"/>
<rect x="5.4" y="17.4" width="2.8" height="1.5" fill="#777"/>
<rect x="6.6" y="20.4" width="4.0" height="4.8" fill="#fff" stroke="#888" stroke-width="0.4"/>
<text x="6.70" y="28.40" font-family="'Liberation Sans','Noto Sans CJK JP',sans-serif" font-size="2.5" fill="#2c2c2c" text-anchor="middle" font-weight="normal" >貼り付け</text>
<text x="6.70" y="31.80" font-family="'Liberation Sans','Noto Sans CJK JP',sans-serif" font-size="2.4" fill="#2c2c2c" text-anchor="middle" font-weight="normal" >▾</text>
<path d="M13.6,18.2 L15.4,20.8 M15.4,18.2 L13.6,20.8" stroke="#2b7cd3" stroke-width="0.6" fill="none"/>
<rect x="13.4" y="23.4" width="2.4" height="2.8" fill="none" stroke="#777" stroke-width="0.5"/>
<text x="17.20" y="26.00" font-family="'Liberation Sans','Noto Sans CJK JP',sans-serif" font-size="2.2" fill="#666" text-anchor="start" font-weight="normal" >▾</text>
<path d="M13.2,31.8 L15.8,29.2 L16.6,30 L14,32.6 Z" fill="#e8912d"/>
<text x="1.40" y="37.40" font-family="'Liberation Sans','Noto Sans CJK JP',sans-serif" font-size="2.7" fill="#2c2c2c" text-anchor="start" font-weight="normal" textLength="15.4" lengthAdjust="spacingAndGlyphs">クリップボード</text>
<text x="18.80" y="37.40" font-family="'Liberation Sans','Noto Sans CJK JP',sans-serif" font-size="2.4" fill="#666" text-anchor="start" font-weight="normal" >⇲</text>
<rect x="22.80" y="18.20" width="24.80" height="3.60" fill="#ffffff" stroke="#c8c8c8" stroke-width="0.3"/>
<rect x="48.60" y="18.20" width="9.80" height="3.60" fill="#ffffff" stroke="#c8c8c8" stroke-width="0.3"/>
<text x="23.80" y="21.00" font-family="'Liberation Sans','Noto Sans CJK JP',sans-serif" font-size="2.5" fill="#333" text-anchor="start" font-weight="normal" >游ゴシック</text>
<text x="45.40" y="21.00" font-family="'Liberation Sans','Noto Sans CJK JP',sans-serif" font-size="2.2" fill="#666" text-anchor="start" font-weight="normal" >▾</text>
<text x="49.40" y="21.00" font-family="'Liberation Sans','Noto Sans CJK JP',sans-serif" font-size="2.6" fill="#333" text-anchor="start" font-weight="normal" >11</text>
<text x="55.60" y="21.00" font-family="'Liberation Sans','Noto Sans CJK JP',sans-serif" font-size="2.2" fill="#666" text-anchor="start" font-weight="normal" >▾</text>
<text x="24.40" y="26.20" font-family="'Liberation Sans','Noto Sans CJK JP',sans-serif" font-size="3.3" fill="#111" text-anchor="start" font-weight="bold" >B</text>
<text x="29.80" y="26.20" font-family="'Liberation Sans','Noto Sans CJK JP',sans-serif" font-size="3.3" fill="#222" text-anchor="start" font-weight="normal" font-style="italic">I</text>
<text x="34.20" y="26.20" font-family="'Liberation Sans','Noto Sans CJK JP',sans-serif" font-size="3.3" fill="#222" text-anchor="start" font-weight="normal" text-decoration="underline">U</text>
<text x="38.40" y="26.00" font-family="'Liberation Sans','Noto Sans CJK JP',sans-serif" font-size="2.2" fill="#666" text-anchor="start" font-weight="normal" >▾</text>
<text x="43.60" y="26.20" font-family="'Liberation Sans','Noto Sans CJK JP',sans-serif" font-size="3.3" fill="#333" text-anchor="start" font-weight="normal" >A</text>
<text x="48.80" y="26.20" font-family="'Liberation Sans','Noto Sans CJK JP',sans-serif" font-size="2.8" fill="#333" text-anchor="start" font-weight="normal" >A</text>
<path d="M46.6,23.4 l0.8,-0.9 l0.8,0.9" stroke="#2b7cd3" stroke-width="0.35" fill="none"/><path d="M51.4,23 l0.7,0.8 l0.7,-0.8" stroke="#2b7cd3" stroke-width="0.35" fill="none"/>
<rect x="24.0" y="29.2" width="3.2" height="3.0" fill="none" stroke="#888" stroke-width="0.4"/><line x1="25.6" y1="29.2" x2="25.6" y2="32.2" stroke="#aaa" stroke-width="0.3"/><line x1="24" y1="30.7" x2="27.2" y2="30.7" stroke="#aaa" stroke-width="0.3"/>
<text x="28.60" y="31.80" font-family="'Liberation Sans','Noto Sans CJK JP',sans-serif" font-size="2.2" fill="#666" text-anchor="start" font-weight="normal" >▾</text>
<path d="M33.8,29 L36,30.6 L34.6,31.6 L33,30.4 Z" fill="#5b8fd6"/>
<rect x="32.90" y="32.00" width="3.60" height="0.90" fill="#ffe500" />
<text x="37.60" y="31.80" font-family="'Liberation Sans','Noto Sans CJK JP',sans-serif" font-size="2.2" fill="#666" text-anchor="start" font-weight="normal" >▾</text>
<text x="41.60" y="31.60" font-family="'Liberation Sans','Noto Sans CJK JP',sans-serif" font-size="3.1" fill="#333" text-anchor="start" font-weight="normal" >A</text>
<rect x="41.30" y="32.00" width="3.40" height="0.90" fill="#e81123" />
<text x="45.80" y="31.80" font-family="'Liberation Sans','Noto Sans CJK JP',sans-serif" font-size="2.2" fill="#666" text-anchor="start" font-weight="normal" >▾</text>
<text x="51.60" y="31.60" font-family="'Liberation Sans','Noto Sans CJK JP',sans-serif" font-size="2.6" fill="#444" text-anchor="start" font-weight="normal" >亜</text>
<text x="55.80" y="31.80" font-family="'Liberation Sans','Noto Sans CJK JP',sans-serif" font-size="2.2" fill="#666" text-anchor="start" font-weight="normal" >▾</text>
<text x="38.20" y="37.40" font-family="'Liberation Sans','Noto Sans CJK JP',sans-serif" font-size="2.6" fill="#2c2c2c" text-anchor="middle" font-weight="normal" >フォント</text>
<text x="56.60" y="37.40" font-family="'Liberation Sans','Noto Sans CJK JP',sans-serif" font-size="2.4" fill="#666" text-anchor="start" font-weight="normal" >⇲</text>
<rect x="61.20" y="17.20" width="8.40" height="17.00" fill="#fafafa" />
<text x="65.40" y="27.80" font-family="'Liberation Sans','Noto Sans CJK JP',sans-serif" font-size="2.6" fill="#333" text-anchor="middle" font-weight="normal" >配置</text>
<text x="65.40" y="31.60" font-family="'Liberation Sans','Noto Sans CJK JP',sans-serif" font-size="2.2" fill="#666" text-anchor="middle" font-weight="normal" >▾</text>
<rect x="73.00" y="17.20" width="8.40" height="17.00" fill="#fafafa" />
<text x="77.20" y="27.80" font-family="'Liberation Sans','Noto Sans CJK JP',sans-serif" font-size="2.6" fill="#333" text-anchor="middle" font-weight="normal" >数値</text>
<text x="77.20" y="31.60" font-family="'Liberation Sans','Noto Sans CJK JP',sans-serif" font-size="2.2" fill="#666" text-anchor="middle" font-weight="normal" >▾</text>
<line x1="63.8" y1="19.40" x2="67.0" y2="19.40" stroke="#777" stroke-width="0.45"/>
<line x1="63.8" y1="20.50" x2="67.0" y2="20.50" stroke="#777" stroke-width="0.45"/>
<line x1="63.8" y1="21.60" x2="67.0" y2="21.60" stroke="#777" stroke-width="0.45"/>
<text x="77.20" y="22.00" font-family="'Liberation Sans','Noto Sans CJK JP',sans-serif" font-size="3.4" fill="#666" text-anchor="middle" font-weight="normal" >%</text>
<rect x="85.00" y="17.60" width="3.20" height="3.00" fill="#d0453a" />
<rect x="85.80" y="18.40" width="1.60" height="1.40" fill="#ffffff" opacity="0.7"/>
<text x="89.00" y="20.05" font-family="'Liberation Sans','Noto Sans CJK JP',sans-serif" font-size="2.45" fill="#333" text-anchor="start" font-weight="normal" >条件付き書式 ▾</text>
<rect x="85.00" y="22.80" width="3.20" height="3.00" fill="#3a7bd5" />
<rect x="85.80" y="23.60" width="1.60" height="1.40" fill="#ffffff" opacity="0.7"/>
<text x="89.00" y="25.25" font-family="'Liberation Sans','Noto Sans CJK JP',sans-serif" font-size="2.45" fill="#333" text-anchor="start" font-weight="normal" >テーブルとして書式設定 ▾</text>
<rect x="85.00" y="27.80" width="3.20" height="3.00" fill="#3a7bd5" />
<rect x="85.80" y="28.60" width="1.60" height="1.40" fill="#ffffff" opacity="0.7"/>
<text x="89.00" y="30.25" font-family="'Liberation Sans','Noto Sans CJK JP',sans-serif" font-size="2.45" fill="#333" text-anchor="start" font-weight="normal" >セルのスタイル ▾</text>
<text x="101.90" y="37.40" font-family="'Liberation Sans','Noto Sans CJK JP',sans-serif" font-size="2.6" fill="#2c2c2c" text-anchor="middle" font-weight="normal" >スタイル</text>
<rect x="122.60" y="17.20" width="8.60" height="17.00" fill="#fafafa" />
<rect x="125.0" y="18.8" width="3.8" height="3.2" fill="#fff" stroke="#3a7bd5" stroke-width="0.6"/><rect x="126.1" y="19.7" width="1.6" height="1.4" fill="#3a7bd5"/>
<text x="126.90" y="27.80" font-family="'Liberation Sans','Noto Sans CJK JP',sans-serif" font-size="2.6" fill="#333" text-anchor="middle" font-weight="normal" >セル</text>
<text x="126.90" y="31.60" font-family="'Liberation Sans','Noto Sans CJK JP',sans-serif" font-size="2.2" fill="#666" text-anchor="middle" font-weight="normal" >▾</text>
<rect x="134.20" y="17.20" width="8.60" height="17.00" fill="#fafafa" />
<circle cx="139.0" cy="19.8" r="1.3" fill="none" stroke="#999" stroke-width="0.45"/><line x1="138.1" y1="20.8" x2="136.8" y2="22.4" stroke="#999" stroke-width="0.5"/>
<text x="138.50" y="27.80" font-family="'Liberation Sans','Noto Sans CJK JP',sans-serif" font-size="2.6" fill="#333" text-anchor="middle" font-weight="normal" >編集</text>
<text x="138.50" y="31.60" font-family="'Liberation Sans','Noto Sans CJK JP',sans-serif" font-size="2.2" fill="#666" text-anchor="middle" font-weight="normal" >▾</text>
<path d="M151.6,17.3 L148.6,21.4 L150.4,21.4 L148.8,25.0 L152.6,20.4 L150.8,20.4 L152.8,17.3 Z" fill="#2b7cd3"/>
<text x="150.40" y="28.20" font-family="'Liberation Sans','Noto Sans CJK JP',sans-serif" font-size="2.6" fill="#333" text-anchor="middle" font-weight="normal" >アイ</text>
<text x="150.40" y="31.70" font-family="'Liberation Sans','Noto Sans CJK JP',sans-serif" font-size="2.6" fill="#333" text-anchor="middle" font-weight="normal" >デア</text>
<text x="150.60" y="37.40" font-family="'Liberation Sans','Noto Sans CJK JP',sans-serif" font-size="2.6" fill="#2c2c2c" text-anchor="middle" font-weight="normal" >アイデア</text>
<path d="M165.4,37.4 l0.9,-0.9 l0.9,0.9" stroke="#666" stroke-width="0.4" fill="none"/>
<rect x="0.00" y="38.60" width="169.00" height="7.30" fill="#f1f1f1" />
<line x1="0" y1="38.6" x2="169.0" y2="38.6" stroke="#dcdcdc" stroke-width="0.4"/>
<rect x="1.6" y="40.699999999999996" width="3.4" height="3.4" fill="none" stroke="#777" stroke-width="0.45"/><line x1="3.3" y1="40.699999999999996" x2="3.3" y2="44.1" stroke="#999" stroke-width="0.3"/><line x1="1.6" y1="42.4" x2="5" y2="42.4" stroke="#999" stroke-width="0.3"/>
<rect x="7.7" y="40.699999999999996" width="3.5" height="3.4" rx="0.7" fill="#fff" stroke="#222" stroke-width="0.8"/>
<rect x="13.6" y="40.699999999999996" width="3.3" height="3.4" fill="#ddd" stroke="#999" stroke-width="0.4"/>
<rect x="18.80" y="39.80" width="4.80" height="5.20" fill="#cfcfcf" />
<rect x="19.6" y="40.699999999999996" width="3.2" height="3.4" fill="#666" stroke="#444" stroke-width="0.4"/><line x1="19.6" y1="42.1" x2="22.8" y2="42.1" stroke="#ddd" stroke-width="0.4"/>
<path d="M25.6,43.6 a1.2,1.2 0 0 1 0.6,-2.2 a1.6,1.6 0 0 1 3,0.2 a1,1 0 0 1 0.2,2 Z" fill="#555"/>
<path d="M32.6,44.0 L35.4,40.8" stroke="#2b7cd3" stroke-width="0.9"/><circle cx="32.6" cy="43.9" r="0.5" fill="#333"/>
<circle cx="39.4" cy="42.0" r="1.3" fill="none" stroke="#888" stroke-width="0.45"/><line x1="40.3" y1="43.0" x2="41.4" y2="44.199999999999996" stroke="#888" stroke-width="0.5"/>
<rect x="44.2" y="40.8" width="3.2" height="3.2" fill="#eee" stroke="#888" stroke-width="0.4"/><line x1="44.2" y1="42.0" x2="47.4" y2="42.0" stroke="#888" stroke-width="0.3"/>
<rect x="50.6" y="40.699999999999996" width="3.6" height="3.5" rx="0.4" fill="#2b7cd3"/><rect x="51.4" y="40.699999999999996" width="2.0" height="1.3" fill="#fff"/><rect x="51.2" y="42.699999999999996" width="2.4" height="1.5" fill="#dbe9fa"/>
<circle cx="57.4" cy="42.0" r="1.3" fill="none" stroke="#999" stroke-width="0.45"/><line x1="58.3" y1="43.0" x2="59.4" y2="44.199999999999996" stroke="#999" stroke-width="0.5"/>
<rect x="62.8" y="40.8" width="3.4" height="3.2" fill="none" stroke="#999" stroke-width="0.4" stroke-dasharray="0.7 0.5"/>
<path d="M70.2,41.0 L72.6,43.0 L71.4,43.0 L72,44.199999999999996 L71.4,44.3 L70.9,43.199999999999996 L70.2,43.8 Z" fill="#2b5fa8"/>
<rect x="75" y="41.8" width="3.4" height="2.0" fill="#777"/><rect x="75.7" y="40.6" width="2.0" height="1.4" fill="#fff" stroke="#2b7cd3" stroke-width="0.35"/>
<rect x="81.0" y="40.699999999999996" width="3.6" height="3.4" fill="#cfe2f8" stroke="#2b7cd3" stroke-width="0.5"/><line x1="81" y1="41.9" x2="84.6" y2="41.9" stroke="#2b7cd3" stroke-width="0.35"/>
<circle cx="88.9" cy="41.6" r="1.0" fill="#e8912d"/><path d="M87.2,44.199999999999996 a1.7,1.6 0 0 1 3.4,0 Z" fill="#2b7cd3"/>
<text x="95.00" y="43.70" font-family="'Liberation Sans','Noto Sans CJK JP',sans-serif" font-size="3.6" fill="#666" text-anchor="middle" font-weight="normal" text-decoration="line-through">S</text>
<text x="101.20" y="43.90" font-family="'Liberation Sans','Noto Sans CJK JP',sans-serif" font-size="4.2" fill="#9b2fae" text-anchor="middle" font-weight="bold" >H</text>
<path d="M106.6,42.199999999999996 a1.5,1.4 0 1 1 1.6,1.6" fill="none" stroke="#999" stroke-width="0.45"/>
<text x="110.60" y="43.40" font-family="'Liberation Sans','Noto Sans CJK JP',sans-serif" font-size="2.2" fill="#888" text-anchor="start" font-weight="normal" >▾</text>
<path d="M117.6,42.199999999999996 a1.5,1.4 0 1 0 -1.6,1.6" fill="none" stroke="#555" stroke-width="0.5"/>
<text x="119.00" y="43.40" font-family="'Liberation Sans','Noto Sans CJK JP',sans-serif" font-size="2.2" fill="#666" text-anchor="start" font-weight="normal" >▾</text>
<text x="122.60" y="43.40" font-family="'Liberation Sans','Noto Sans CJK JP',sans-serif" font-size="2.7" fill="#222" text-anchor="start" font-weight="bold" >自動保存</text>
<rect x="136.2" y="40.9" width="8.0" height="3.0" rx="1.5" fill="#fff" stroke="#555" stroke-width="0.4"/><rect x="136.6" y="41.3" width="2.6" height="2.2" fill="#222"/>
<text x="148.90" y="43.40" font-family="'Liberation Sans','Noto Sans CJK JP',sans-serif" font-size="2.6" fill="#444" text-anchor="middle" font-weight="normal" >▾</text>
<rect x="0.00" y="45.90" width="169.00" height="8.90" fill="#e9e9e9" />
<rect x="1.00" y="47.00" width="20.60" height="6.00" fill="#ffffff" />
<text x="2.20" y="51.00" font-family="'Liberation Sans','Noto Sans CJK JP',sans-serif" font-size="2.7" fill="#444" text-anchor="start" font-weight="normal" >A1</text>
<text x="18.80" y="51.00" font-family="'Liberation Sans','Noto Sans CJK JP',sans-serif" font-size="2.2" fill="#777" text-anchor="start" font-weight="normal" >▾</text>
<text x="23.60" y="51.20" font-family="'Liberation Sans','Noto Sans CJK JP',sans-serif" font-size="3" fill="#999" text-anchor="start" font-weight="normal" >⋮</text>
<rect x="26.90" y="47.00" width="17.60" height="6.00" fill="#ffffff" />
<text x="30.40" y="51.10" font-family="'Liberation Sans','Noto Sans CJK JP',sans-serif" font-size="2.5" fill="#888" text-anchor="middle" font-weight="normal" >✕</text>
<text x="35.40" y="51.10" font-family="'Liberation Sans','Noto Sans CJK JP',sans-serif" font-size="2.5" fill="#888" text-anchor="middle" font-weight="normal" >✓</text>
<text x="40.60" y="51.10" font-family="'Liberation Sans','Noto Sans CJK JP',sans-serif" font-size="2.7" fill="#555" text-anchor="middle" font-weight="normal" font-style="italic">fx</text>
<rect x="46.00" y="47.00" width="121.20" height="6.00" fill="#ffffff" />
<text x="165.20" y="51.00" font-family="'Liberation Sans','Noto Sans CJK JP',sans-serif" font-size="2.2" fill="#777" text-anchor="start" font-weight="normal" >▾</text>
<rect x="0.80" y="54.80" width="164.20" height="3.30" fill="#e6e6e6" />
<rect x="0.80" y="58.10" width="3.60" height="58.60" fill="#e6e6e6" />
<rect x="4.40" y="58.10" width="160.60" height="58.60" fill="#ffffff" />
<path d="M1.4,57.6 L3.8,57.6 L3.8,55.4 Z" fill="#b5b5b5"/>
<line x1="4.40" y1="54.8" x2="4.40" y2="116.70" stroke="#dcdcdc" stroke-width="0.35"/>
<text x="10.37" y="57.50" font-family="'Liberation Sans','Noto Sans CJK JP',sans-serif" font-size="2.5" fill="#1e6e41" text-anchor="middle" font-weight="normal" >A</text>
<line x1="16.33" y1="54.8" x2="16.33" y2="116.70" stroke="#dcdcdc" stroke-width="0.35"/>
<text x="22.29" y="57.50" font-family="'Liberation Sans','Noto Sans CJK JP',sans-serif" font-size="2.5" fill="#3a3a3a" text-anchor="middle" font-weight="normal" >B</text>
<line x1="28.26" y1="54.8" x2="28.26" y2="116.70" stroke="#dcdcdc" stroke-width="0.35"/>
<text x="34.22" y="57.50" font-family="'Liberation Sans','Noto Sans CJK JP',sans-serif" font-size="2.5" fill="#3a3a3a" text-anchor="middle" font-weight="normal" >C</text>
<line x1="40.19" y1="54.8" x2="40.19" y2="116.70" stroke="#dcdcdc" stroke-width="0.35"/>
<text x="46.16" y="57.50" font-family="'Liberation Sans','Noto Sans CJK JP',sans-serif" font-size="2.5" fill="#3a3a3a" text-anchor="middle" font-weight="normal" >D</text>
<line x1="52.12" y1="54.8" x2="52.12" y2="116.70" stroke="#dcdcdc" stroke-width="0.35"/>
<text x="58.08" y="57.50" font-family="'Liberation Sans','Noto Sans CJK JP',sans-serif" font-size="2.5" fill="#3a3a3a" text-anchor="middle" font-weight="normal" >E</text>
<line x1="64.05" y1="54.8" x2="64.05" y2="116.70" stroke="#dcdcdc" stroke-width="0.35"/>
<text x="70.02" y="57.50" font-family="'Liberation Sans','Noto Sans CJK JP',sans-serif" font-size="2.5" fill="#3a3a3a" text-anchor="middle" font-weight="normal" >F</text>
<line x1="75.98" y1="54.8" x2="75.98" y2="116.70" stroke="#dcdcdc" stroke-width="0.35"/>
<text x="81.94" y="57.50" font-family="'Liberation Sans','Noto Sans CJK JP',sans-serif" font-size="2.5" fill="#3a3a3a" text-anchor="middle" font-weight="normal" >G</text>
<line x1="87.91" y1="54.8" x2="87.91" y2="116.70" stroke="#dcdcdc" stroke-width="0.35"/>
<text x="93.88" y="57.50" font-family="'Liberation Sans','Noto Sans CJK JP',sans-serif" font-size="2.5" fill="#3a3a3a" text-anchor="middle" font-weight="normal" >H</text>
<line x1="99.84" y1="54.8" x2="99.84" y2="116.70" stroke="#dcdcdc" stroke-width="0.35"/>
<text x="105.81" y="57.50" font-family="'Liberation Sans','Noto Sans CJK JP',sans-serif" font-size="2.5" fill="#3a3a3a" text-anchor="middle" font-weight="normal" >I</text>
<line x1="111.77" y1="54.8" x2="111.77" y2="116.70" stroke="#dcdcdc" stroke-width="0.35"/>
<text x="117.74" y="57.50" font-family="'Liberation Sans','Noto Sans CJK JP',sans-serif" font-size="2.5" fill="#3a3a3a" text-anchor="middle" font-weight="normal" >J</text>
<line x1="123.70" y1="54.8" x2="123.70" y2="116.70" stroke="#dcdcdc" stroke-width="0.35"/>
<text x="129.67" y="57.50" font-family="'Liberation Sans','Noto Sans CJK JP',sans-serif" font-size="2.5" fill="#3a3a3a" text-anchor="middle" font-weight="normal" >K</text>
<line x1="135.63" y1="54.8" x2="135.63" y2="116.70" stroke="#dcdcdc" stroke-width="0.35"/>
<text x="141.60" y="57.50" font-family="'Liberation Sans','Noto Sans CJK JP',sans-serif" font-size="2.5" fill="#3a3a3a" text-anchor="middle" font-weight="normal" >L</text>
<line x1="147.56" y1="54.8" x2="147.56" y2="116.70" stroke="#dcdcdc" stroke-width="0.35"/>
<text x="153.53" y="57.50" font-family="'Liberation Sans','Noto Sans CJK JP',sans-serif" font-size="2.5" fill="#3a3a3a" text-anchor="middle" font-weight="normal" >M</text>
<line x1="159.49" y1="54.8" x2="159.49" y2="116.70" stroke="#dcdcdc" stroke-width="0.35"/>
<line x1="0.8" y1="58.10" x2="165.00" y2="58.10" stroke="#dcdcdc" stroke-width="0.35"/>
<text x="2.60" y="61.30" font-family="'Liberation Sans','Noto Sans CJK JP',sans-serif" font-size="2.6" fill="#1e6e41" text-anchor="middle" font-weight="normal" >1</text>
<line x1="0.8" y1="62.29" x2="165.00" y2="62.29" stroke="#dcdcdc" stroke-width="0.35"/>
<text x="2.60" y="65.49" font-family="'Liberation Sans','Noto Sans CJK JP',sans-serif" font-size="2.6" fill="#444" text-anchor="middle" font-weight="normal" >2</text>
<line x1="0.8" y1="66.47" x2="165.00" y2="66.47" stroke="#dcdcdc" stroke-width="0.35"/>
<text x="2.60" y="69.67" font-family="'Liberation Sans','Noto Sans CJK JP',sans-serif" font-size="2.6" fill="#444" text-anchor="middle" font-weight="normal" >3</text>
<line x1="0.8" y1="70.66" x2="165.00" y2="70.66" stroke="#dcdcdc" stroke-width="0.35"/>
<text x="2.60" y="73.86" font-family="'Liberation Sans','Noto Sans CJK JP',sans-serif" font-size="2.6" fill="#444" text-anchor="middle" font-weight="normal" >4</text>
<line x1="0.8" y1="74.84" x2="165.00" y2="74.84" stroke="#dcdcdc" stroke-width="0.35"/>
<text x="2.60" y="78.04" font-family="'Liberation Sans','Noto Sans CJK JP',sans-serif" font-size="2.6" fill="#444" text-anchor="middle" font-weight="normal" >5</text>
<line x1="0.8" y1="79.03" x2="165.00" y2="79.03" stroke="#dcdcdc" stroke-width="0.35"/>
<text x="2.60" y="82.23" font-family="'Liberation Sans','Noto Sans CJK JP',sans-serif" font-size="2.6" fill="#444" text-anchor="middle" font-weight="normal" >6</text>
<line x1="0.8" y1="83.22" x2="165.00" y2="83.22" stroke="#dcdcdc" stroke-width="0.35"/>
<text x="2.60" y="86.42" font-family="'Liberation Sans','Noto Sans CJK JP',sans-serif" font-size="2.6" fill="#444" text-anchor="middle" font-weight="normal" >7</text>
<line x1="0.8" y1="87.40" x2="165.00" y2="87.40" stroke="#dcdcdc" stroke-width="0.35"/>
<text x="2.60" y="90.60" font-family="'Liberation Sans','Noto Sans CJK JP',sans-serif" font-size="2.6" fill="#444" text-anchor="middle" font-weight="normal" >8</text>
<line x1="0.8" y1="91.59" x2="165.00" y2="91.59" stroke="#dcdcdc" stroke-width="0.35"/>
<text x="2.60" y="94.79" font-family="'Liberation Sans','Noto Sans CJK JP',sans-serif" font-size="2.6" fill="#444" text-anchor="middle" font-weight="normal" >9</text>
<line x1="0.8" y1="95.77" x2="165.00" y2="95.77" stroke="#dcdcdc" stroke-width="0.35"/>
<text x="2.60" y="98.97" font-family="'Liberation Sans','Noto Sans CJK JP',sans-serif" font-size="2.6" fill="#444" text-anchor="middle" font-weight="normal" >10</text>
<line x1="0.8" y1="99.96" x2="165.00" y2="99.96" stroke="#dcdcdc" stroke-width="0.35"/>
<text x="2.60" y="103.16" font-family="'Liberation Sans','Noto Sans CJK JP',sans-serif" font-size="2.6" fill="#444" text-anchor="middle" font-weight="normal" >11</text>
<line x1="0.8" y1="104.15" x2="165.00" y2="104.15" stroke="#dcdcdc" stroke-width="0.35"/>
<text x="2.60" y="107.35" font-family="'Liberation Sans','Noto Sans CJK JP',sans-serif" font-size="2.6" fill="#444" text-anchor="middle" font-weight="normal" >12</text>
<line x1="0.8" y1="108.33" x2="165.00" y2="108.33" stroke="#dcdcdc" stroke-width="0.35"/>
<text x="2.60" y="111.53" font-family="'Liberation Sans','Noto Sans CJK JP',sans-serif" font-size="2.6" fill="#444" text-anchor="middle" font-weight="normal" >13</text>
<line x1="0.8" y1="112.52" x2="165.00" y2="112.52" stroke="#dcdcdc" stroke-width="0.35"/>
<text x="2.60" y="115.72" font-family="'Liberation Sans','Noto Sans CJK JP',sans-serif" font-size="2.6" fill="#444" text-anchor="middle" font-weight="normal" >14</text>
<line x1="0.8" y1="116.70" x2="165.00" y2="116.70" stroke="#dcdcdc" stroke-width="0.35"/>
<rect x="4.40" y="57.60" width="11.93" height="0.60" fill="#1e6e41" />
<rect x="3.90" y="58.10" width="0.50" height="4.19" fill="#1e6e41" />
<rect x="4.50" y="58.20" width="11.93" height="4.19" fill="none" stroke="#2f8052" stroke-width="0.6"/>
<rect x="15.83" y="61.79" width="1.20" height="1.20" fill="#1e6e41" />
<rect x="165.00" y="54.80" width="3.30" height="61.90" fill="#ececec" />
<rect x="165.60" y="58.40" width="2.10" height="36.00" fill="#ffffff" stroke="#cfcfcf" stroke-width="0.3"/>
<rect x="165.60" y="95.50" width="2.10" height="9.00" fill="#d2d2d2" />
<line x1="168.5" y1="8" x2="168.5" y2="127.0" stroke="#9fc7ae" stroke-width="0.7"/>
<line x1="0.35" y1="8" x2="0.35" y2="127.0" stroke="#b9d3c2" stroke-width="0.6"/>
<rect x="0.00" y="116.70" width="168.30" height="4.70" fill="#e4e4e4" />
<text x="5.00" y="120.20" font-family="'Liberation Sans','Noto Sans CJK JP',sans-serif" font-size="2.8" fill="#aaa" text-anchor="middle" font-weight="normal" >◂</text>
<text x="9.40" y="120.20" font-family="'Liberation Sans','Noto Sans CJK JP',sans-serif" font-size="2.8" fill="#aaa" text-anchor="middle" font-weight="normal" >▸</text>
<text x="20.60" y="120.00" font-family="'Liberation Sans','Noto Sans CJK JP',sans-serif" font-size="2.4" fill="#444" text-anchor="middle" font-weight="normal" >Test</text>
<rect x="25.20" y="116.70" width="12.80" height="4.70" fill="#ffffff" />
<text x="31.60" y="119.90" font-family="'Liberation Sans','Noto Sans CJK JP',sans-serif" font-size="2.4" fill="#2f8052" text-anchor="middle" font-weight="normal" >Sheet1</text>
<rect x="25.20" y="120.70" width="12.80" height="0.80" fill="#1e6e41" />
<circle cx="44.6" cy="119.10" r="1.5" fill="none" stroke="#777" stroke-width="0.4"/>
<text x="44.60" y="120.00" font-family="'Liberation Sans','Noto Sans CJK JP',sans-serif" font-size="2.8" fill="#666" text-anchor="middle" font-weight="normal" >+</text>
<text x="100.20" y="120.10" font-family="'Liberation Sans','Noto Sans CJK JP',sans-serif" font-size="2.8" fill="#888" text-anchor="middle" font-weight="normal" >⋮</text>
<text x="103.60" y="120.20" font-family="'Liberation Sans','Noto Sans CJK JP',sans-serif" font-size="2.6" fill="#999" text-anchor="middle" font-weight="normal" >◂</text>
<rect x="106.00" y="117.60" width="53.00" height="2.90" fill="#ffffff" stroke="#c6c6c6" stroke-width="0.3"/>
<text x="162.40" y="120.20" font-family="'Liberation Sans','Noto Sans CJK JP',sans-serif" font-size="2.6" fill="#999" text-anchor="middle" font-weight="normal" >▸</text>
<rect x="0.00" y="121.40" width="169.00" height="5.60" fill="#f3f3f3" />
<line x1="126.5" y1="124.30" x2="151" y2="124.30" stroke="#8a8a8a" stroke-width="0.4"/>
<text x="124.30" y="125.30" font-family="'Liberation Sans','Noto Sans CJK JP',sans-serif" font-size="3" fill="#555" text-anchor="middle" font-weight="normal" >−</text>
<text x="152.90" y="125.30" font-family="'Liberation Sans','Noto Sans CJK JP',sans-serif" font-size="3" fill="#555" text-anchor="middle" font-weight="normal" >+</text>
<rect x="138.30" y="122.70" width="1.20" height="3.20" fill="#444" />
<text x="165.60" y="125.30" font-family="'Liberation Sans','Noto Sans CJK JP',sans-serif" font-size="2.9" fill="#444" text-anchor="end" font-weight="normal" >100%</text>
<rect x="0.2" y="0.2" width="168.6" height="126.6" fill="none" stroke="#a9c9b6" stroke-width="0.4"/>
</g>
<path d="M122.40,197.00 L208.20,197.00" fill="none" stroke="#000" stroke-width="5.75" stroke-linecap="round" stroke-linejoin="round"/>
<path d="M220.20,197.00 L203.00,206.20 L206.30,197.00 L203.00,187.80 Z" fill="#000"/>
<path d="M320.00,197.00 L368.70,197.00" fill="none" stroke="#000" stroke-width="5.75" stroke-linecap="round" stroke-linejoin="round"/>
<path d="M380.70,197.00 L362.90,206.00 L366.20,197.00 L362.90,188.00 Z" fill="#000"/>
<path d="M550.20,200.50 L623.40,200.50" fill="none" stroke="#000" stroke-width="5.75" stroke-linecap="round" stroke-linejoin="round"/>
<path d="M635.40,200.50 L615.60,209.40 L618.90,200.50 L615.60,191.60 Z" fill="#000"/>
<path d="M698.90,256.00 L698.90,382.30 L564.20,382.30" fill="none" stroke="#000" stroke-width="5.75" stroke-linecap="round" stroke-linejoin="round"/>
<path d="M552.20,382.30 L570.50,373.50 L567.20,382.30 L570.50,391.10 Z" fill="#000"/>
<path d="M382.40,388.30 L332.50,388.30" fill="none" stroke="#000" stroke-width="5.75" stroke-linecap="round" stroke-linejoin="round"/>
<path d="M320.50,388.30 L338.10,379.40 L334.80,388.30 L338.10,397.20 Z" fill="#000"/>
<path d="M222.00,389.70 L136.70,391.54" fill="none" stroke="#000" stroke-width="5.75" stroke-linecap="round" stroke-linejoin="round"/>
<path d="M124.70,391.80 L142.10,382.27 L139.00,391.49 L142.49,400.57 Z" fill="#000"/>
<rect x="220.50" y="169.00" width="101.80" height="56.60" fill="#e8eef9" stroke="#000" stroke-width="1.2"/>
<text x="270.50" y="205.50" font-family="'Liberation Sans',sans-serif" font-size="33" text-anchor="middle" fill="#000" stroke="#ffffff" stroke-width="2.6" stroke-linejoin="round" paint-order="stroke">Query</text>
<text x="270.50" y="205.50" font-family="'Liberation Sans',sans-serif" font-size="33" text-anchor="middle" fill="none" stroke="#f2f5fb" stroke-width="0.4">Query</text>
<rect x="218.70" y="359.90" width="101.70" height="56.40" fill="#e8eef9" stroke="#000" stroke-width="1.2"/>
<text x="268.80" y="397.30" font-family="'Liberation Sans',sans-serif" font-size="33" text-anchor="middle" fill="#000" stroke="#ffffff" stroke-width="2.6" stroke-linejoin="round" paint-order="stroke">Query</text>
<text x="268.80" y="397.30" font-family="'Liberation Sans',sans-serif" font-size="33" text-anchor="middle" fill="none" stroke="#f2f5fb" stroke-width="0.4">Query</text>
<text x="705.50" y="42.10" font-family="'Liberation Sans','Noto Sans CJK JP',sans-serif" font-weight="bold" font-size="13" text-anchor="middle" fill="#000">シートのデータ</text>
<text x="705.50" y="57.40" font-family="'Liberation Sans','Noto Sans CJK JP',sans-serif" font-weight="bold" font-size="13" text-anchor="middle" fill="#000">+</text>
<text x="705.50" y="72.70" font-family="'Liberation Sans','Noto Sans CJK JP',sans-serif" font-weight="bold" font-size="13" text-anchor="middle" fill="#000"><tspan letter-spacing="0.9">Query</tspan>設定</text>
<text x="705.50" y="88.00" font-family="'Liberation Sans','Noto Sans CJK JP',sans-serif" font-weight="bold" font-size="13" text-anchor="middle" fill="#000">ファイルのパス</text>
<text x="705.50" y="103.30" font-family="'Liberation Sans','Noto Sans CJK JP',sans-serif" font-weight="bold" font-size="13" text-anchor="middle" fill="#000">変換方法</text>
<rect x="634.2" y="109.2" width="128" height="145" fill="#ffffff"/>
<path d="M654,113 L728,113 L759.4,144 L759.4,252.4 L654,252.4 Z" fill="#f8f8f8" stroke="#3a3a3a" stroke-width="1.7" stroke-linejoin="miter"/>
<path d="M728,113 L728,144 L759.4,144" fill="#fbfbfb" stroke="#3a3a3a" stroke-width="1.7"/>
<rect x="710.9" y="169.5" width="17.80" height="6.20" fill="#21a366"/>
<rect x="732.4" y="169.5" width="17.30" height="6.20" fill="#33c481"/>
<rect x="710.9" y="179.9" width="17.80" height="6.10" fill="#107c41"/>
<rect x="732.4" y="179.9" width="17.30" height="6.10" fill="#21a366"/>
<rect x="710.9" y="190.0" width="17.80" height="6.10" fill="#185c37"/>
<rect x="732.4" y="190.0" width="17.30" height="6.10" fill="#134f2e"/>
<rect x="653.5" y="150" width="54" height="68.4" rx="4" fill="#0e6a3a" opacity="0.85"/>
<rect x="635.9" y="146.7" width="71.6" height="70.0" rx="4.2" fill="#147a45"/>
<text x="671.7" y="202.6" font-family="'Liberation Sans',sans-serif" font-weight="bold" font-size="57.5" text-anchor="middle" fill="#ffffff" transform="translate(671.7 0) scale(0.96 1) translate(-671.7 0)">X</text>
<rect x="547.4" y="216.7" width="105.80" height="37.70" fill="#ffffff"/>
<text x="598.50" y="231.60" font-family="'Liberation Sans','Noto Sans CJK JP',sans-serif" font-weight="bold" font-size="13" text-anchor="middle" fill="#000">ブックファイル</text>
<text x="598.50" y="246.60" font-family="'Liberation Sans','Noto Sans CJK JP',sans-serif" font-weight="bold" font-size="13" text-anchor="middle" fill="#000">を保存</text>
<rect x="560.7" y="394.6" width="140.30" height="18.00" fill="#ffffff"/>
<text x="628.80" y="407.70" font-family="'Liberation Sans','Noto Sans CJK JP',sans-serif" font-weight="bold" font-size="13" text-anchor="middle" fill="#000">ブックファイルを開く</text>
<rect x="137" y="421.8" width="254.30" height="37.20" fill="#ffffff"/>
<text x="264.60" y="438.40" font-family="'Liberation Sans','Noto Sans CJK JP',sans-serif" font-weight="bold" font-size="13" text-anchor="middle" fill="#000"><tspan letter-spacing="0.9">Query</tspan>がソース情報や変換方法を記憶し</text>
<text x="264.60" y="453.10" font-family="'Liberation Sans','Noto Sans CJK JP',sans-serif" font-weight="bold" font-size="13" text-anchor="middle" fill="#000">ているのですぐに表データを更新できる</text>
</svg>
</body>
</html>
